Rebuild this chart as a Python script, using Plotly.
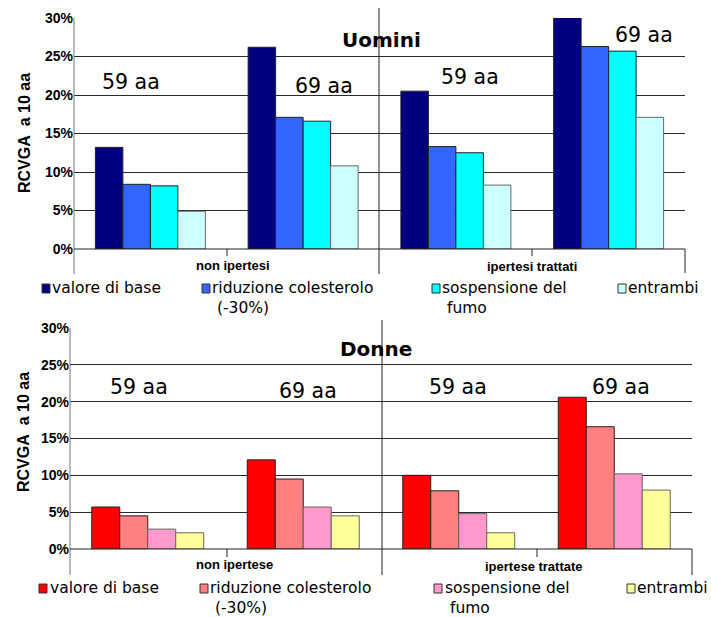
import plotly.graph_objects as go

W, H = 711, 617

# ---------------- data ----------------
series_names = ["valore di base", "riduzione colesterolo<br>(-30%)", "sospensione del<br>fumo", "entrambi"]
age_labels = ["59 aa", "69 aa", "59 aa", "69 aa"]
groups_men = ["non ipertesi", "ipertesi trattati"]
groups_women = ["non ipertese", "ipertese trattate"]

# Uomini: per category (non ipertesi 59, non ipertesi 69, ipertesi trattati 59, ipertesi trattati 69)
men_base = [13.2, 26.2, 20.5, 30.3]
men_chol = [8.4, 17.1, 13.3, 26.3]
men_smoke = [8.2, 16.6, 12.5, 25.7]
men_both = [4.9, 10.8, 8.3, 17.1]

# Donne
women_base = [5.7, 12.1, 10.0, 20.6]
women_chol = [4.5, 9.5, 7.9, 16.6]
women_smoke = [2.7, 5.7, 4.8, 10.2]
women_both = [2.2, 4.5, 2.2, 8.0]

men_colors = ["#000080", "#3366FF", "#00FFFF", "#CCFFFF"]
women_colors = ["#FF0000", "#FF8080", "#FF99CC", "#FFFF99"]

y_ticks = [0, 5, 10, 15, 20, 25, 30]
y_tick_text = [f"{v}%" for v in y_ticks]

# ---------------- helpers ----------------
def px(x):
    return x / W

def py(y):
    return 1 - y / H

fig = go.Figure()
xs = [0, 1, 2, 3]

men_vals = [men_base, men_chol, men_smoke, men_both]
women_vals = [women_base, women_chol, women_smoke, women_both]

for i in range(4):
    fig.add_trace(go.Bar(
        x=xs, y=men_vals[i], name=series_names[i], xaxis="x", yaxis="y",
        marker=dict(color=men_colors[i], line=dict(color="#222222" if i < 3 else "#666666", width=1)),
        cliponaxis=False, showlegend=False, offsetgroup=str(i)))
for i in range(4):
    fig.add_trace(go.Bar(
        x=xs, y=women_vals[i], name=series_names[i], xaxis="x2", yaxis="y2",
        marker=dict(color=women_colors[i], line=dict(color="#222222" if i < 2 else "#666666", width=1)),
        cliponaxis=False, showlegend=False, offsetgroup=str(i)))

# plot geometry (pixels)
top = dict(left=74, right=685, y0=249, y30=18)
bot = dict(left=70, right=692, y0=549, y30=328)

def xaxis_def(g):
    return dict(domain=[px(g["left"]), px(g["right"])], range=[-0.5, 3.5],
                showticklabels=False, showgrid=False, zeroline=False,
                showline=False, ticks="", fixedrange=True)

def yaxis_def(g, anchor):
    return dict(domain=[py(g["y0"]), py(g["y30"])], range=[0, 30],
                tickvals=y_ticks, ticktext=y_tick_text,
                tickfont=dict(family="Liberation Sans", size=14, color="#000", weight="bold"),
                showgrid=True, gridcolor="#2a2a2a", gridwidth=1,
                zeroline=False, showline=False, ticks="", ticklen=0,
                anchor=anchor, fixedrange=True, automargin=False)

fig.update_layout(
    width=W, height=H, autosize=False,
    margin=dict(l=0, r=0, t=0, b=0, pad=0),
    paper_bgcolor="white", plot_bgcolor="white",
    barmode="group", bargap=0.28, bargroupgap=0,
    xaxis=xaxis_def(top), yaxis=yaxis_def(top, "x"),
    xaxis2=dict(xaxis_def(bot), anchor="y2"), yaxis2=yaxis_def(bot, "x2"),
    showlegend=False,
)

shapes = []

def vline(x, y1, y2, color="#222", width=1):
    shapes.append(dict(type="line", xref="paper", yref="paper",
                       x0=px(x), x1=px(x), y0=py(y1), y1=py(y2),
                       line=dict(color=color, width=width)))

def hline(x1, x2, y, color="#222", width=1):
    shapes.append(dict(type="line", xref="paper", yref="paper",
                       x0=px(x1), x1=px(x2), y0=py(y), y1=py(y),
                       line=dict(color=color, width=width)))

# top chart axis lines
vline(74, 18, 274, color="#777")
vline(379, 8, 274)
vline(685, 249, 273)
vline(227, 249, 256)
vline(532, 249, 256)
hline(74, 685, 249)
# bottom chart axis lines
vline(70, 328, 575, color="#777")
vline(382, 320, 575)
vline(692, 549, 575)
vline(227, 549, 557)
vline(537, 549, 557)
hline(70, 692, 549)

annotations = []

def text(x, y, s, size, family="DejaVu Sans", bold=False, xanchor="center", angle=0):
    annotations.append(dict(xref="paper", yref="paper", x=px(x), y=py(y),
                            text=f"<b>{s}</b>" if bold else s, showarrow=False,
                            xanchor=xanchor, yanchor="middle", textangle=angle,
                            align="left",
                            font=dict(family=family, size=size, color="#000")))

# titles
text(381, 40, "Uomini", 20, bold=True)
text(376, 349, "Donne", 20, bold=True)

# y axis titles
text(24, 133, "RCVGA&nbsp; a 10 aa", 16, family="Liberation Sans", bold=True, angle=-90)
text(23, 432, "RCVGA&nbsp; a 10 aa", 16, family="Liberation Sans", bold=True, angle=-90)

# age labels
for (x, y), s in zip([(131, 82), (324, 86), (470, 77), (644, 35)], age_labels):
    text(x, y, s, 20.5)
for (x, y), s in zip([(139, 387), (308, 391), (458, 387), (621, 387)], age_labels):
    text(x, y, s, 20.5)

# group labels
text(233, 265, groups_men[0], 13, family="Liberation Sans", bold=True)
text(532, 266, groups_men[1], 13, family="Liberation Sans", bold=True)
text(235, 564, groups_women[0], 13, family="Liberation Sans", bold=True)
text(534, 566, groups_women[1], 13, family="Liberation Sans", bold=True)

# manual legends
legend_x_marker = [42, 202, 432, 618]
legend_x_text = [51, 211, 441, 627]
legend_x_marker2 = [39, 200, 434, 627]
legend_x_text2 = [49, 209, 444, 636]

LEG_FONT = 15.5
LINE_H = 20  # approx line height in px


def legend(ycenter, markers, texts, colors):
    for i in range(4):
        mx = markers[i]
        shapes.append(dict(type="rect", xref="paper", yref="paper",
                           x0=px(mx), x1=px(mx + 8), y0=py(ycenter + 5), y1=py(ycenter - 4),
                           fillcolor=colors[i], line=dict(color="#333", width=1)))
        label = series_names[i].replace("<br>", "<br> ")
        annotations.append(dict(xref="paper", yref="paper", x=px(texts[i]), y=py(ycenter - LINE_H / 2),
                                text=label, showarrow=False, xanchor="left", yanchor="top",
                                align="left", borderpad=0,
                                font=dict(family="DejaVu Sans", size=LEG_FONT, color="#000")))

legend(288, legend_x_marker, legend_x_text, men_colors)
legend(588, legend_x_marker2, legend_x_text2, women_colors)

fig.update_layout(shapes=shapes, annotations=annotations)
fig.write_html(
    "out.html",
    config={"responsive": False, "displayModeBar": False},
    post_script="document.body.style.margin='0';document.body.style.padding='0';document.body.style.overflow='hidden';",
)
